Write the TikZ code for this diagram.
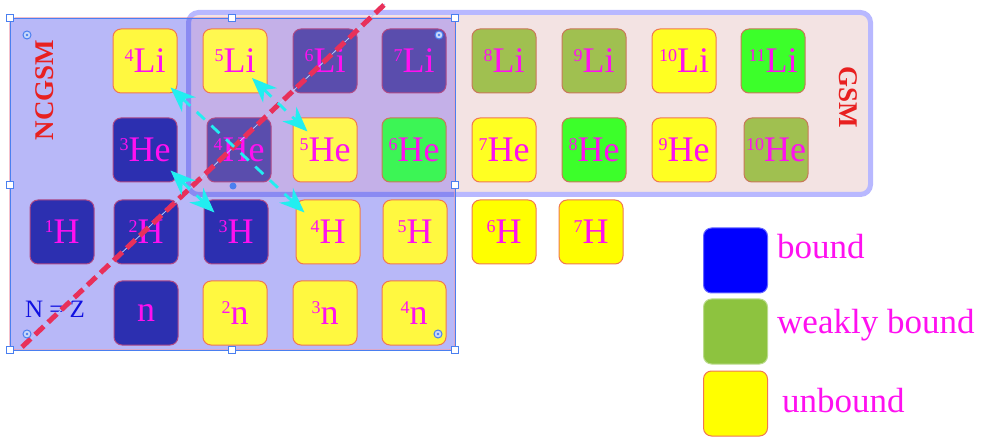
\documentclass[tikz,border=0pt]{standalone}
\usepackage{fontspec}
\setmainfont{Liberation Serif}
\usetikzlibrary{arrows.meta,calc}
\definecolor{gsmfill}{HTML}{F3E3E3}
\definecolor{ncfill}{HTML}{B8B8F8}
\definecolor{ovfill}{HTML}{C4B0E8}
\definecolor{gsmborder}{HTML}{B8B8FF}
\definecolor{gsmborderdark}{HTML}{8A8AF2}
\definecolor{ncborder}{HTML}{F0A0B0}
\definecolor{selblue}{HTML}{4A7FF0}
\definecolor{labred}{HTML}{E82020}
\definecolor{nucmag}{HTML}{FF10F0}
\definecolor{nzblue}{HTML}{1010E0}
\definecolor{dashred}{HTML}{E8305A}
\definecolor{arrcyan}{HTML}{22EEF0}
\definecolor{cBN}{HTML}{2C2FB0}
\definecolor{cBO}{HTML}{5A4DAD}
\definecolor{cYN}{HTML}{FFF840}
\definecolor{cYO}{HTML}{FFF850}
\definecolor{cYG}{HTML}{FFFF22}
\definecolor{cYX}{HTML}{FFFF00}
\definecolor{cGO}{HTML}{3CF555}
\definecolor{cGG}{HTML}{3CFF2A}
\definecolor{cOL}{HTML}{A0C050}
\definecolor{bordY}{HTML}{F07850}
\definecolor{bordB}{HTML}{B04A86}
\definecolor{bordG}{HTML}{C87858}
\definecolor{legblue}{HTML}{0000FF}
\definecolor{legolive}{HTML}{8DC33F}
\newcommand{\iso}[2]{\raisebox{11.5pt}{\fontsize{18}{18}\selectfont #1}#2}
\tikzset{
  nuc/.style={rounded corners=8pt, minimum width=64pt, minimum height=64pt, inner sep=0pt,
    draw, line width=1pt, text=nucmag, font=\fontsize{36}{36}\selectfont},
  bN/.style={nuc, fill=cBN, draw=bordB},
  bO/.style={nuc, fill=cBO, draw=bordB},
  yN/.style={nuc, fill=cYN, draw=bordY},
  yO/.style={nuc, fill=cYO, draw=bordY},
  yG/.style={nuc, fill=cYG, draw=bordY},
  yX/.style={nuc, fill=cYX, draw=bordY},
  gO/.style={nuc, fill=cGO, draw=bordG},
  gG/.style={nuc, fill=cGG, draw=bordG},
  olv/.style={nuc, fill=cOL, draw=bordG},
  legbox/.style={rounded corners=8pt, minimum width=64pt, minimum height=65pt, inner sep=0pt, line width=1pt},
  legtext/.style={anchor=base west, inner sep=0pt, text=nucmag, font=\fontsize{35}{35}\selectfont},
  grplabel/.style={text=labred, font=\fontsize{27}{27}\selectfont\bfseries, inner sep=0pt},
  handle/.style={draw=selblue, fill=white, minimum size=7pt, inner sep=0pt, line width=0.8pt},
  ring/.style={circle, draw=selblue, fill=white!70!selblue, minimum size=8pt, inner sep=0pt, line width=1pt,
    path picture={\fill[selblue] (path picture bounding box.center) circle (1.4pt);}},
  cyarrow/.style={draw=arrcyan, line width=2.8pt, dash pattern=on 11pt off 9pt,
    {Stealth[length=25pt,width=20pt,inset=8pt,fill=arrcyan]}-{Stealth[length=25pt,width=20pt,inset=8pt,fill=arrcyan]}}
}
\begin{document}
\begin{tikzpicture}[x=1pt,y=-1pt]
\useasboundingbox (0,0) rectangle (996,438);
% GSM region
\fill[gsmfill, rounded corners=10pt] (188.5,12.5) rectangle (870.5,194.5);
% NCGSM region
\fill[ncfill, rounded corners=6pt] (10,18) rectangle (455,350);
\begin{scope}
  \clip[rounded corners=6pt] (10,18) rectangle (455,350);
  \fill[ovfill, rounded corners=10pt] (188.5,12.5) rectangle (870.5,194.5);
\end{scope}
\draw[gsmborder, line width=5pt, rounded corners=10pt] (188.5,12.5) rectangle (870.5,194.5);
\begin{scope}
  \clip (10,18) rectangle (455,350);
  \draw[gsmborderdark, line width=5pt, rounded corners=10pt] (188.5,12.5) rectangle (870.5,194.5);
\end{scope}
\draw[ncborder, line width=1.4pt, rounded corners=6pt] (10,18) rectangle (455,350);
\draw[selblue, line width=0.7pt] (10,18) rectangle (455,350);

% Li row
\node[yN]  (Li4)  at (145,61) {\iso{4}{Li}};
\node[yO]  (Li5)  at (235,61) {\iso{5}{Li}};
\node[bO]  (Li6)  at (325,61) {\iso{6}{Li}};
\node[bO]  (Li7)  at (414,61) {\iso{7}{Li}};
\node[olv] (Li8)  at (504,61) {\iso{8}{Li}};
\node[olv] (Li9)  at (594,61) {\iso{9}{Li}};
\node[yG]  (Li10) at (684,61) {\iso{10}{Li}};
\node[gG]  (Li11) at (773,61) {\iso{11}{Li}};
% He row
\node[bN]  (He3)  at (145,150) {\iso{3}{He}};
\node[bO]  (He4)  at (239,150) {\iso{4}{He}};
\node[yO]  (He5)  at (325,150) {\iso{5}{He}};
\node[gO]  (He6)  at (414,150) {\iso{6}{He}};
\node[yG]  (He7)  at (504,150) {\iso{7}{He}};
\node[gG]  (He8)  at (594,150) {\iso{8}{He}};
\node[yG]  (He9)  at (684,150) {\iso{9}{He}};
\node[olv] (He10) at (776,150) {\iso{10}{He}};
% H row
\node[bN]  (H1) at (62,232)  {\iso{1}{H}};
\node[bN]  (H2) at (146,232) {\iso{2}{H}};
\node[bN]  (H3) at (236,232) {\iso{3}{H}};
\node[yN]  (H4) at (328,232) {\iso{4}{H}};
\node[yN]  (H5) at (415,232) {\iso{5}{H}};
\node[yX]  (H6) at (504,232) {\iso{6}{H}};
\node[yX]  (H7) at (591,232) {\iso{7}{H}};
% n row
\node[bN]  (n1) at (146,313) {n};
\node[yN]  (n2) at (235,313) {\iso{2}{n}};
\node[yN]  (n3) at (325,313) {\iso{3}{n}};
\node[yN]  (n4) at (414,313) {\iso{4}{n}};

% labels
\node[grplabel, rotate=90]  (ncgsm) at (45,90) {NCGSM};
\node[grplabel, rotate=-90] (gsm)   at (848,97) {GSM};
\node[text=nzblue, font=\fontsize{25}{25}\selectfont, inner sep=0pt] (nz) at (55,309) {N = Z};

% N = Z line
\coordinate (dl1) at (22,347);
\coordinate (dl2) at (385,4);
\draw[white!60!selblue, line width=0.8pt] (dl1) -- (dl2);
\draw[dashred, line width=5pt, dash pattern=on 12pt off 6pt] (dl1) -- (dl2);

% cyan arrows
\draw[cyarrow] ($(Li4.south east)+(-7,-6)$) -- ($(H4.north west)+(9,13)$);
\draw[cyarrow] ($(Li5.center)+(17,17)$) -- ($(He5.north west)+(15,14)$);
\draw[cyarrow] ($(He3.south east)+(-7,-12)$) -- ($(H3.north west)+(11,13)$);

% selection handles
\foreach \p/\n in {{(10,18)}/ha,{(232,18)}/hb,{(455,18)}/hc,{(10,185)}/hd,{(455,185)}/he,{(10,350)}/hf,{(232,350)}/hg,{(455,350)}/hh}
  \node[handle] (\n) at \p {};
\node[circle, fill=selblue, minimum size=7pt, inner sep=0pt] (rot) at (233,186) {};
\foreach \p/\n in {{(27,35)}/ra,{(439,35)}/rb,{(27,334)}/rc,{(438,334)}/rd}
  \node[ring] (\n) at \p {};

% legend
\node[legbox, fill=legblue, draw=legblue!60!white] (lb) at (735.5,260.5) {};
\node[legbox, fill=legolive, draw=legolive!60!white] (lw) at (735.5,331.5) {};
\node[legbox, fill=cYX, draw=bordY] (lu) at (735.5,403.5) {};
\node[legtext] (tb) at (777,259) {bound};
\node[legtext] (tw) at (777,334) {weakly bound};
\node[legtext] (tu) at (782,412) {unbound};
\end{tikzpicture}
\end{document}
